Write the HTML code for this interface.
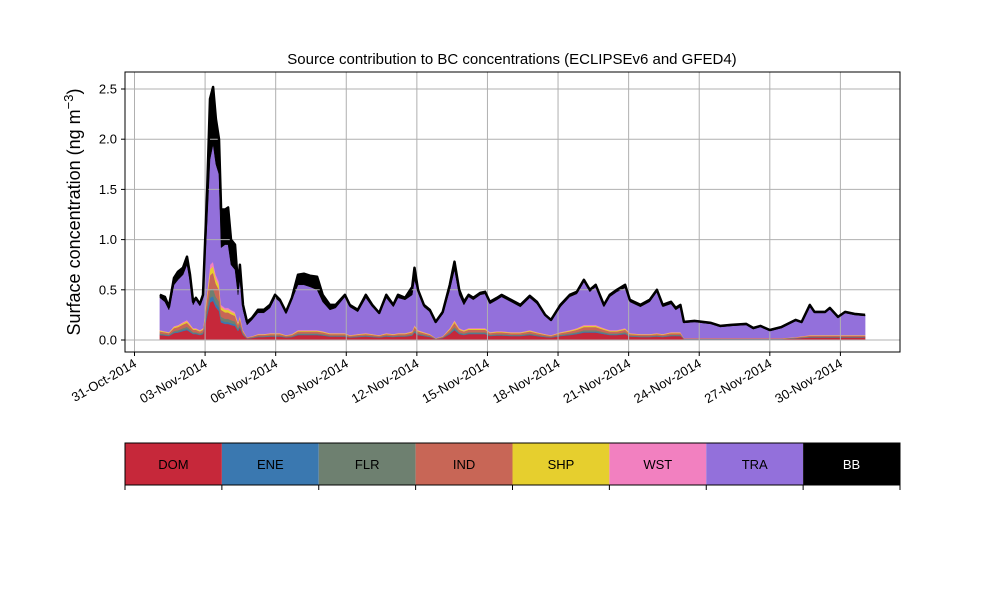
<!DOCTYPE html>
<html><head><meta charset="utf-8"><style>
body{margin:0;background:#fff;}
svg{display:block;font-family:"Liberation Sans",sans-serif;}
</style></head><body>
<svg id="chart" width="1000" height="600" viewBox="0 0 1000 600">
<rect width="1000" height="600" fill="#fff"/>
<g id="areas"></g><g id="grid"></g><g id="lines"></g><g id="axes"></g><g id="legend"></g>
</svg>
<script>
const days=[1.08,1.29,1.46,1.68,1.85,2.06,2.23,2.36,2.49,2.61,2.78,2.91,3.09,3.21,3.34,3.46,3.59,3.68,3.85,3.98,4.10,4.27,4.40,4.48,4.61,4.78,4.99,5.25,5.50,5.76,5.97,6.18,6.44,6.69,6.95,7.20,7.46,7.76,8.00,8.30,8.55,8.94,9.15,9.49,9.83,10.1,10.4,10.7,11.0,11.2,11.5,11.8,11.9,12.05,12.3,12.55,12.8,13.1,13.4,13.6,13.8,14.0,14.2,14.4,14.7,14.9,15.1,15.4,15.6,16.0,16.4,16.8,17.1,17.45,17.7,18.1,18.5,18.8,19.1,19.35,19.6,19.95,20.2,20.5,20.85,21.05,21.5,21.9,22.2,22.45,22.8,23.0,23.2,23.35,23.8,24.5,24.9,25.35,26.0,26.3,26.6,27.0,27.5,28.1,28.35,28.7,28.9,29.35,29.55,29.9,30.2,30.6,31.05];
const DOM=[.05,.045,.04,.07,.075,.09,.10,.08,.06,.06,.05,.06,.25,.375,.39,.325,.29,.175,.16,.16,.15,.14,.09,.125,.05,.015,.02,.03,.03,.035,.035,.035,.025,.03,.05,.05,.05,.05,.045,.035,.035,.035,.025,.03,.035,.03,.025,.035,.03,.035,.035,.045,.075,.05,.04,.03,.01,.02,.06,.10,.06,.05,.06,.06,.06,.06,.04,.045,.045,.04,.04,.05,.04,.03,.025,.04,.05,.06,.075,.075,.075,.06,.05,.05,.06,.035,.03,.03,.035,.03,.04,.04,.04,.01,.01,.01,.01,.01,.01,.01,.01,.01,.01,.015,.02,.025,.025,.025,.025,.025,.025,.025,.025];
const ENE=[.006,.005,.005,.008,.009,.011,.012,.010,.007,.007,.006,.007,.030,.045,.047,.039,.035,.021,.019,.019,.018,.017,.011,.015,.006,.002,.002,.004,.004,.004,.004,.004,.003,.004,.006,.006,.006,.006,.005,.004,.004,.004,.003,.004,.004,.004,.003,.004,.004,.004,.004,.005,.009,.006,.005,.004,.001,.002,.007,.012,.007,.006,.007,.007,.007,.007,.005,.005,.005,.005,.005,.006,.005,.004,.003,.005,.006,.007,.009,.009,.009,.007,.006,.006,.007,.004,.004,.004,.004,.004,.005,.005,.005,.001,.001,.001,.001,.001,.001,.001,.001,.001,.001,.002,.002,.003,.003,.003,.003,.003,.003,.003,.003];
const FLR=[.010,.009,.008,.014,.015,.018,.020,.016,.012,.012,.010,.012,.050,.075,.078,.065,.058,.035,.032,.032,.030,.028,.018,.025,.010,.003,.004,.006,.006,.007,.007,.007,.005,.006,.010,.010,.010,.010,.009,.007,.007,.007,.005,.006,.007,.006,.005,.007,.006,.007,.007,.009,.015,.010,.008,.006,.002,.004,.012,.020,.012,.010,.012,.012,.012,.012,.008,.009,.009,.008,.008,.010,.008,.006,.005,.008,.010,.012,.015,.015,.015,.012,.010,.010,.012,.007,.006,.006,.007,.006,.008,.008,.008,.002,.002,.002,.002,.002,.002,.002,.002,.002,.002,.003,.004,.005,.005,.005,.005,.005,.005,.005,.005];
const IND=[.02,.018,.016,.028,.03,.036,.04,.032,.024,.024,.02,.024,.10,.15,.156,.13,.116,.07,.064,.064,.06,.056,.036,.05,.02,.006,.008,.012,.012,.014,.014,.014,.01,.012,.02,.02,.02,.02,.018,.014,.014,.014,.01,.012,.014,.012,.01,.014,.012,.014,.014,.018,.03,.02,.016,.012,.004,.008,.024,.04,.024,.02,.024,.024,.024,.024,.016,.018,.018,.016,.016,.02,.016,.012,.01,.016,.02,.024,.03,.03,.03,.024,.02,.02,.024,.014,.012,.012,.014,.012,.016,.016,.016,.004,.004,.004,.004,.004,.004,.004,.004,.004,.004,.006,.008,.01,.01,.01,.01,.01,.01,.01,.01];
const SHP=[.008,.007,.006,.011,.012,.014,.016,.013,.010,.010,.008,.010,.040,.060,.062,.052,.046,.028,.026,.026,.024,.022,.014,.020,.008,.002,.003,.005,.005,.006,.006,.006,.004,.005,.008,.008,.008,.008,.007,.006,.006,.006,.004,.005,.006,.005,.004,.006,.005,.006,.006,.007,.012,.008,.006,.005,.002,.003,.010,.016,.010,.008,.010,.010,.010,.010,.006,.007,.007,.006,.006,.008,.006,.005,.004,.006,.008,.010,.012,.012,.012,.010,.008,.008,.010,.006,.005,.005,.006,.005,.006,.006,.006,.002,.002,.002,.002,.002,.002,.002,.002,.002,.002,.002,.003,.004,.004,.004,.004,.004,.004,.004,.004];
const WST=[.006,.005,.005,.008,.009,.011,.012,.010,.007,.007,.006,.007,.030,.045,.047,.039,.035,.021,.019,.019,.018,.017,.011,.015,.006,.002,.002,.004,.004,.004,.004,.004,.003,.004,.006,.006,.006,.006,.005,.004,.004,.004,.003,.004,.004,.004,.003,.004,.004,.004,.004,.005,.009,.006,.005,.004,.001,.002,.007,.012,.007,.006,.007,.007,.007,.007,.005,.005,.005,.005,.005,.006,.005,.004,.003,.005,.006,.007,.009,.009,.009,.007,.006,.006,.007,.004,.004,.004,.004,.004,.005,.005,.005,.001,.001,.001,.001,.001,.001,.001,.001,.001,.001,.002,.002,.003,.003,.003,.003,.003,.003,.003,.003];
const TRA=[.32,.29,.22,.41,.45,.47,.55,.42,.23,.28,.24,.30,.70,1.05,1.17,1.10,1.07,.57,.63,.63,.45,.42,.27,.35,.20,.12,.16,.21,.21,.25,.35,.31,.21,.34,.45,.45,.43,.40,.29,.23,.25,.36,.28,.22,.35,.27,.21,.35,.27,.35,.33,.36,.45,.38,.25,.22,.15,.22,.38,.50,.33,.25,.31,.28,.33,.34,.28,.31,.34,.30,.25,.32,.28,.18,.14,.25,.33,.34,.43,.33,.38,.21,.33,.38,.40,.31,.27,.32,.41,.27,.28,.22,.25,.15,.16,.14,.11,.12,.13,.09,.11,.07,.10,.16,.13,.28,.22,.22,.26,.17,.22,.20,.19];
const BB=[.03,.05,.03,.07,.08,.07,.08,.07,.03,.02,.02,.03,.30,.60,.57,.45,.35,.38,.35,.37,.25,.25,.10,.15,.05,.03,.02,.03,.03,.03,.03,.02,.02,.02,.10,.11,.11,.13,.07,.05,.03,.02,.02,.02,.03,.02,.01,.03,.02,.03,.02,.08,.12,.02,.02,.02,.01,.02,.05,.08,.05,.03,.02,.02,.02,.02,.02,.02,.02,.02,.02,.02,.02,.01,.01,.02,.02,.02,.02,.02,.02,.02,.02,.02,.03,.02,.02,.02,.02,.02,.02,.02,.02,.01,.01,.01,.01,.01,.01,.01,.01,.01,.01,.01,.01,.02,.01,.01,.01,.01,.01,.01,.01];
const seriesNames=["DOM","ENE","FLR","IND","SHP","WST","TRA","BB"];
const seriesColors=["#c6283a","#3a78b0","#6e8070","#c86656","#e6cf2e","#f280c0","#9370db","#000000"];
const yTicks=[0,0.5,1.0,1.5,2.0,2.5];
const xTickDays=[0,3,6,9,12,15,18,21,24,27,30];
const xTickLabels=["31-Oct-2014","03-Nov-2014","06-Nov-2014","09-Nov-2014","12-Nov-2014","15-Nov-2014","18-Nov-2014","21-Nov-2014","24-Nov-2014","27-Nov-2014","30-Nov-2014"];

const NS="http://www.w3.org/2000/svg";
const L=125,R=900,T=72,B=352;
const xs=d=>134.5+23.53*d;
const ys=v=>340-100.4*v;
function mk(tag,attrs,parent){const e=document.createElementNS(NS,tag);for(const k in attrs)e.setAttribute(k,attrs[k]);parent.appendChild(e);return e;}
const grid=document.getElementById('grid'),areas=document.getElementById('areas'),lines=document.getElementById('lines'),axes=document.getElementById('axes'),legend=document.getElementById('legend');

yTicks.forEach(v=>{
  const g=mk('line',{x1:L,x2:R,y1:ys(v),y2:ys(v),stroke:'#b0b0b0','stroke-width':1},grid);
  
  
  const tk=mk('line',{x1:L-4,x2:L,y1:ys(v),y2:ys(v),stroke:'#000'},axes);
  
  
  const t=mk('text',{x:L-8,y:ys(v)+4.5,'text-anchor':'end','font-size':13},axes);
  t.textContent=v.toFixed(1);
  
  
});
xTickDays.forEach((d,i)=>{
  const x=xs(d);
  const g=mk('line',{x1:x,x2:x,y1:T,y2:B,stroke:'#b0b0b0','stroke-width':1},grid);
  
  
  const tk=mk('line',{x1:x,x2:x,y1:B,y2:B+4,stroke:'#000'},axes);
  
  
  const t=mk('text',{x:x+3,y:B+14,'text-anchor':'end','font-size':13,transform:`rotate(-30 ${x+3} ${B+14})`},axes);
  t.textContent=xTickLabels[i];
  
  
});

const all=[DOM,ENE,FLR,IND,SHP,WST,TRA,BB];
const n=Math.min(days.length,...all.map(a=>a.length));
let base=new Array(n).fill(0);
all.forEach((arr,si)=>{
  const top=base.map((b,i)=>b+arr[i]);
  let pts=[];
  for(let i=0;i<n;i++)pts.push(xs(days[i]).toFixed(1)+','+ys(top[i]).toFixed(1));
  for(let i=n-1;i>=0;i--)pts.push(xs(days[i]).toFixed(1)+','+ys(base[i]).toFixed(1));
  const p=mk('polygon',{points:pts.join(' '),fill:seriesColors[si],stroke:seriesColors[si],'stroke-width':0.5},areas);
  
  
  base=top;
});
let lp=[];for(let i=0;i<n;i++)lp.push(xs(days[i]).toFixed(1)+','+ys(base[i]).toFixed(1));
const tl=mk('polyline',{points:lp.join(' '),fill:'none',stroke:'#000','stroke-width':2.5,'stroke-linejoin':'round'},lines);



const frame=mk('rect',{x:L,y:T,width:R-L,height:B-T,fill:'none',stroke:'#000','stroke-width':1},axes);


const title=mk('text',{x:512,y:64,'text-anchor':'middle','font-size':15},axes);
title.textContent='Source contribution to BC concentrations (ECLIPSEv6 and GFED4)';


const yl=mk('text',{x:0,y:0,'text-anchor':'middle','font-size':18,transform:'translate(80,212) rotate(-90)'},axes);
yl.innerHTML='Surface concentration (ng m<tspan dy="-7" font-size="13">−3</tspan><tspan dy="7">)</tspan>';



const segW=(R-L)/8;
seriesNames.forEach((nm,i)=>{
  const x=L+i*segW;
  const r=mk('rect',{x:x,y:443,width:segW,height:42,fill:seriesColors[i]},legend);
  
  
  const t=mk('text',{x:x+segW/2,y:469,'text-anchor':'middle','font-size':13,fill:nm==='BB'?'#fff':'#000'},legend);
  t.textContent=nm;
  
  
});
for(let i=0;i<=8;i++){
  const x=L+i*segW;
  const tk=mk('line',{x1:x,x2:x,y1:485,y2:490,stroke:'#000'},legend);
  
  
}
const lf=mk('rect',{x:L,y:443,width:R-L,height:42,fill:'none',stroke:'#000','stroke-width':1},legend);


</script>
</body></html>
